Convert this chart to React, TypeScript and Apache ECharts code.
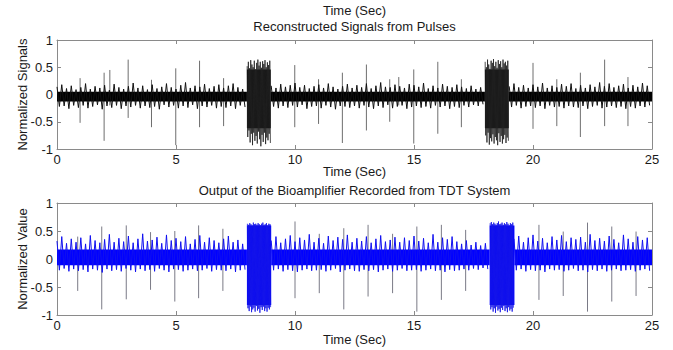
import React, { useEffect, useRef } from "react";
import * as echarts from "echarts";

// ---------- data ----------
const xTickValues = [0, 5, 10, 15, 20, 25];
const yTickValues = [-1, -0.5, 0, 0.5, 1];
const SAMPLE_STEP = 0.1; // seconds between plotted samples
const BURST_STEP = 0.025; // seconds between samples inside the bursts

// top: reconstructed signal, samples every 0.1 s (null = inside a burst)
const topSamples = [
  0.14, -0.22, 0.18, -0.21, 0.11, -0.26, 0.16, -0.2, 0.09, -0.24,
  0.13, -0.2, 0.2, -0.25, 0.1, -0.22, 0.15, -0.19, 0.12, -0.27,
  0.17, -0.21, 0.08, -0.24, 0.19, -0.2, 0.13, -0.26, 0.1, -0.21,
  0.15, -0.23, 0.21, -0.2, 0.12, -0.25, 0.16, -0.21, 0.09, -0.24,
  0.18, -0.22, 0.11, -0.27, 0.14, -0.19, 0.2, -0.23, 0.13, -0.2,
  0.1, -0.25, 0.17, -0.21, 0.22, -0.24, 0.12, -0.19, 0.16, -0.26,
  0.14, -0.21, 0.19, -0.23, 0.11, -0.2, 0.15, -0.25, 0.18, -0.22,
  0.12, -0.24, 0.16, -0.21, 0.2, -0.26, 0.13, -0.2, 0.1, -0.23,
  null, null, null, null, null, null, null, null, null, null,
  0.16, -0.22, 0.12, -0.25, 0.19, -0.21, 0.14, -0.24, 0.17, -0.2,
  0.21, -0.23, 0.13, -0.19, 0.17, -0.26, 0.11, -0.22, 0.15, -0.21,
  0.18, -0.25, 0.12, -0.2, 0.2, -0.23, 0.14, -0.27, 0.1, -0.21,
  0.15, -0.22, 0.19, -0.24, 0.12, -0.21, 0.17, -0.25, 0.13, -0.2,
  0.2, -0.23, 0.11, -0.26, 0.16, -0.21, 0.22, -0.24, 0.14, -0.19,
  0.13, -0.25, 0.18, -0.22, 0.15, -0.2, 0.12, -0.26, 0.19, -0.23,
  0.17, -0.21, 0.14, -0.24, 0.21, -0.22, 0.11, -0.25, 0.16, -0.2,
  0.12, -0.23, 0.19, -0.21, 0.15, -0.26, 0.13, -0.22, 0.18, -0.24,
  0.14, -0.2, 0.11, -0.23, 0.16, -0.19, 0.1, -0.21, 0.13, -0.18,
  null, null, null, null, null, null, null, null, null, null,
  0.15, -0.23, 0.2, -0.2, 0.13, -0.25, 0.17, -0.22, 0.12, -0.21,
  0.18, -0.24, 0.14, -0.21, 0.21, -0.26, 0.12, -0.2, 0.16, -0.23,
  0.13, -0.22, 0.19, -0.25, 0.15, -0.21, 0.2, -0.23, 0.11, -0.24,
  0.17, -0.21, 0.12, -0.26, 0.18, -0.22, 0.14, -0.2, 0.22, -0.25,
  0.15, -0.23, 0.2, -0.21, 0.13, -0.24, 0.16, -0.22, 0.19, -0.26,
  0.12, -0.22, 0.17, -0.25, 0.14, -0.21, 0.21, -0.23, 0.16, -0.2,
];

// bottom: bioamplifier output, samples every 0.1 s (null = inside a burst)
const bottomSamples = [
  0.32, -0.2, 0.4, -0.17, 0.28, -0.22, 0.36, -0.18, 0.3, -0.21,
  0.38, -0.19, 0.27, -0.23, 0.42, -0.18, 0.33, -0.2, 0.29, -0.24,
  0.35, -0.18, 0.44, -0.21, 0.3, -0.19, 0.37, -0.22, 0.31, -0.17,
  0.41, -0.2, 0.29, -0.23, 0.36, -0.18, 0.45, -0.21, 0.32, -0.19,
  0.34, -0.22, 0.39, -0.17, 0.28, -0.2, 0.43, -0.23, 0.33, -0.18,
  0.37, -0.19, 0.31, -0.22, 0.4, -0.2, 0.27, -0.18, 0.35, -0.21,
  0.42, -0.2, 0.3, -0.17, 0.38, -0.22, 0.33, -0.19, 0.29, -0.2,
  0.36, -0.21, 0.41, -0.18, 0.3, -0.23, 0.34, -0.2, 0.27, -0.19,
  null, null, null, null, null, null, null, null, null, null,
  0.33, -0.2, 0.4, -0.18, 0.29, -0.22, 0.36, -0.19, 0.42, -0.21,
  0.31, -0.23, 0.38, -0.2, 0.34, -0.18, 0.44, -0.21, 0.3, -0.2,
  0.37, -0.19, 0.28, -0.22, 0.41, -0.2, 0.33, -0.17, 0.39, -0.23,
  0.35, -0.2, 0.43, -0.18, 0.3, -0.21, 0.37, -0.22, 0.32, -0.19,
  0.4, -0.21, 0.29, -0.19, 0.36, -0.23, 0.42, -0.2, 0.31, -0.18,
  0.34, -0.22, 0.39, -0.2, 0.3, -0.17, 0.38, -0.21, 0.33, -0.2,
  0.41, -0.19, 0.32, -0.22, 0.37, -0.2, 0.29, -0.18, 0.44, -0.21,
  0.3, -0.2, 0.38, -0.23, 0.35, -0.19, 0.4, -0.21, 0.31, -0.2,
  0.27, -0.18, 0.33, -0.2, 0.25, -0.17, 0.3, -0.19, 0.24, -0.16,
  0.28, -0.18, null, null, null, null, null, null, null, null,
  null, null, 0.36, -0.2, 0.41, -0.18, 0.3, -0.22, 0.38, -0.19,
  0.43, -0.21, 0.32, -0.2, 0.37, -0.23, 0.29, -0.18, 0.4, -0.2,
  0.34, -0.19, 0.42, -0.22, 0.31, -0.2, 0.38, -0.17, 0.35, -0.21,
  0.39, -0.2, 0.3, -0.23, 0.44, -0.19, 0.33, -0.21, 0.37, -0.18,
  0.32, -0.22, 0.41, -0.2, 0.35, -0.18, 0.29, -0.21, 0.43, -0.2,
  0.36, -0.19, 0.3, -0.22, 0.4, -0.2, 0.34, -0.18, 0.38, -0.21,
];

// burst episodes: start times (s) and samples every 0.025 s
const topBurstStarts = [7.99, 17.99];
const topBurst1 = [
  0.52, -0.78, 0.6, -0.66, 0.48, -0.88, 0.63, -0.72, 0.55, -0.93,
  0.5, -0.7, 0.62, -0.85, 0.46, -0.76, 0.58, -0.9, 0.64, -0.68,
  0.53, -0.82, 0.6, -0.95, 0.49, -0.74, 0.61, -0.87, 0.56, -0.7,
  0.63, -0.91, 0.5, -0.79, 0.59, -0.84, 0.54, -0.72, 0.62, -0.89,
];
const topBurst2 = [
  0.6, -0.75, 0.5, -0.88, 0.64, -0.7, 0.55, -0.92, 0.47, -0.8,
  0.62, -0.86, 0.58, -0.73, 0.65, -0.9, 0.52, -0.78, 0.6, -0.84,
  0.49, -0.93, 0.63, -0.71, 0.56, -0.87, 0.61, -0.76, 0.5, -0.9,
  0.64, -0.82, 0.57, -0.74, 0.6, -0.89, 0.53, -0.79, 0.62, -0.85,
];
const bottomBurstStarts = [8.0, 18.2];
const bottomBurst1 = [
  0.63, -0.88, 0.61, -0.93, 0.64, -0.85, 0.62, -0.95, 0.6, -0.9,
  0.65, -0.87, 0.62, -0.94, 0.63, -0.84, 0.61, -0.92, 0.64, -0.89,
  0.62, -0.96, 0.6, -0.86, 0.63, -0.91, 0.65, -0.85, 0.61, -0.93,
  0.62, -0.88, 0.64, -0.94, 0.6, -0.87, 0.63, -0.9, 0.62, -0.86,
];
const bottomBurst2 = [
  0.64, -0.9, 0.66, -0.86, 0.62, -0.94, 0.65, -0.88, 0.63, -0.96,
  0.61, -0.85, 0.64, -0.92, 0.67, -0.89, 0.62, -0.95, 0.63, -0.87,
  0.65, -0.91, 0.61, -0.84, 0.64, -0.93, 0.62, -0.88, 0.66, -0.95,
  0.63, -0.86, 0.6, -0.92, 0.64, -0.89, 0.62, -0.94, 0.65, -0.87,
];

// dense core of each signal: [start s, end s, low, high]
const topCore = [
  [0, 7.98, -0.13, 0.05],
  [7.98, 8.98, -0.62, 0.46],
  [8.98, 17.98, -0.13, 0.05],
  [17.98, 18.98, -0.62, 0.46],
  [18.98, 25, -0.13, 0.05],
];
const bottomCore = [
  [0, 7.98, -0.11, 0.17],
  [7.98, 9.0, -0.82, 0.6],
  [9.0, 18.18, -0.11, 0.17],
  [18.18, 19.22, -0.82, 0.6],
  [19.22, 25, -0.11, 0.17],
];

// pulses: [time s, low, high]
const topSpikes = [
  [0.97, -0.52, 0.3], [1.98, -0.85, 0.4], [2.22, -0.2, 0.45], [2.99, -0.43, 0.64],
  [3.97, -0.6, 0.27], [4.99, -0.93, 0.48], [5.99, -0.6, 0.62], [7.0, -0.58, 0.3],
  [9.99, -0.6, 0.54], [10.99, -0.54, 0.28], [11.99, -0.89, 0.4], [13.0, -0.66, 0.55],
  [13.98, -0.5, 0.28], [14.36, -0.2, 0.32], [14.99, -0.9, 0.46], [16.0, -0.72, 0.6],
  [16.99, -0.6, 0.28], [20.0, -0.63, 0.58], [21.0, -0.58, 0.28], [21.99, -0.78, 0.4],
  [23.01, -0.58, 0.64], [23.99, -0.58, 0.32],
];
const bottomSpikes = [
  [0.87, -0.57, 0.4], [1.88, -0.9, 0.58], [2.91, -0.72, 0.6], [3.93, -0.55, 0.48],
  [4.95, -0.76, 0.5], [5.95, -0.7, 0.6], [6.97, -0.57, 0.54], [10.0, -0.7, 0.67],
  [11.02, -0.61, 0.45], [12.05, -0.9, 0.55], [13.07, -0.67, 0.61], [14.1, -0.61, 0.45],
  [15.12, -0.94, 0.58], [16.15, -0.73, 0.61], [17.17, -0.57, 0.52], [20.25, -0.73, 0.61],
  [21.27, -0.66, 0.49], [22.29, -0.94, 0.65], [23.31, -0.76, 0.58], [24.33, -0.66, 0.49],
];

// ---------- chart ----------
const FONT = "'Liberation Sans', Arial, sans-serif";
const BOX = "#8a8a8a";
const TXT = "#1a1a1a";

function coreSeries(data: number[][], color: string, ax: number) {
  return {
    type: "custom",
    xAxisIndex: ax,
    yAxisIndex: ax,
    clip: true,
    encode: { x: [0, 1], y: [2, 3] },
    data,
    renderItem: (_p: any, api: any) => {
      const a = api.coord([api.value(0), api.value(3)]);
      const b = api.coord([api.value(1), api.value(2)]);
      return {
        type: "rect",
        shape: { x: a[0], y: a[1], width: b[0] - a[0], height: b[1] - a[1] },
        style: { fill: color },
      };
    },
  };
}

function spikeSeries(data: number[][], color: string, ax: number) {
  return {
    type: "custom",
    xAxisIndex: ax,
    yAxisIndex: ax,
    clip: true,
    encode: { x: 0, y: [1, 2] },
    data,
    renderItem: (_p: any, api: any) => {
      const a = api.coord([api.value(0), api.value(1)]);
      const b = api.coord([api.value(0), api.value(2)]);
      return {
        type: "line",
        shape: { x1: a[0], y1: a[1], x2: b[0], y2: b[1] },
        style: { stroke: color, lineWidth: 1 },
      };
    },
  };
}

function sampleSeries(samples: (number | null)[], start: number, step: number, color: string, ax: number, width = 1) {
  return {
    type: "line",
    xAxisIndex: ax,
    yAxisIndex: ax,
    showSymbol: false,
    symbol: "none",
    connectNulls: false,
    lineStyle: { color, width },
    data: samples.map((v, i) => [start + i * step, v]),
  };
}

function xAxes(grid: number) {
  const common = {
    type: "value",
    gridIndex: grid,
    min: xTickValues[0],
    max: xTickValues[xTickValues.length - 1],
    interval: xTickValues[1] - xTickValues[0],
    splitLine: { show: false },
    axisLine: { show: true, onZero: false, lineStyle: { color: BOX, width: 1 } },
    axisTick: { show: true, inside: true, length: 4, lineStyle: { color: BOX } },
  };
  return [
    {
      ...common,
      position: "bottom",
      axisLabel: { show: true, color: TXT, fontSize: 13, fontFamily: FONT, margin: 4 },
    },
    { ...common, position: "top", axisLabel: { show: false } },
  ];
}

function yAxes(grid: number) {
  const common = {
    type: "value",
    gridIndex: grid,
    min: yTickValues[0],
    max: yTickValues[yTickValues.length - 1],
    interval: yTickValues[1] - yTickValues[0],
    splitLine: { show: false },
    axisLine: { show: true, onZero: false, lineStyle: { color: BOX, width: 1 } },
    axisTick: { show: true, inside: true, length: 4, lineStyle: { color: BOX } },
  };
  return [
    {
      ...common,
      position: "left",
      axisLabel: { show: true, color: TXT, fontSize: 13, fontFamily: FONT, margin: 4 },
    },
    { ...common, position: "right", axisLabel: { show: false } },
  ];
}

function txt(text: string, x: number, y: number, rotate = 0) {
  return {
    type: "text",
    x,
    y,
    rotation: rotate,
    style: {
      text,
      fill: TXT,
      font: `13px ${FONT}`,
      textAlign: "center",
      textVerticalAlign: "middle",
    },
  };
}

export default function App() {
  const ref = useRef<HTMLDivElement>(null);
  useEffect(() => {
    if (!ref.current) return;
    const chart = echarts.init(ref.current, undefined, { renderer: "svg" });
    const cx = 354.5;
    chart.setOption({
      animation: false,
      backgroundColor: "#ffffff",
      grid: [
        { left: 57, top: 40, width: 595, height: 109 },
        { left: 57, top: 203, width: 595, height: 112 },
      ],
      xAxis: [...xAxes(0), ...xAxes(1)],
      yAxis: [...yAxes(0), ...yAxes(1)],
      series: [
        spikeSeries(topSpikes, "#6e6e6e", 0),
        coreSeries(topCore, "#000000", 0),
        sampleSeries(topSamples, 0, SAMPLE_STEP, "#111111", 0),
        sampleSeries(topBurst1, topBurstStarts[0], BURST_STEP, "#222222", 0, 0.8),
        sampleSeries(topBurst2, topBurstStarts[1], BURST_STEP, "#222222", 0, 0.8),
        spikeSeries(bottomSpikes, "#7a7a86", 2),
        coreSeries(bottomCore, "#0000ff", 2),
        sampleSeries(bottomSamples, 0, SAMPLE_STEP, "#1010f0", 2),
        sampleSeries(bottomBurst1, bottomBurstStarts[0], BURST_STEP, "#1515e8", 2, 0.8),
        sampleSeries(bottomBurst2, bottomBurstStarts[1], BURST_STEP, "#1515e8", 2, 0.8),
      ],
      graphic: [
        txt("Time (Sec)", cx, 10.5),
        txt("Reconstructed Signals from Pulses", cx, 26),
        txt("Time (Sec)", cx, 171),
        txt("Output of the Bioamplifier Recorded from TDT System", cx, 190),
        txt("Time (Sec)", cx, 339),
        txt("Normalized Signals", 22, 94.5, Math.PI / 2),
        txt("Normalized Value", 22, 259, Math.PI / 2),
      ],
    });
    return () => chart.dispose();
  }, []);
  return (
    <div
      ref={ref}
      style={{ position: "fixed", left: 0, top: 0, width: 673, height: 350, background: "#fff" }}
    />
  );
}
